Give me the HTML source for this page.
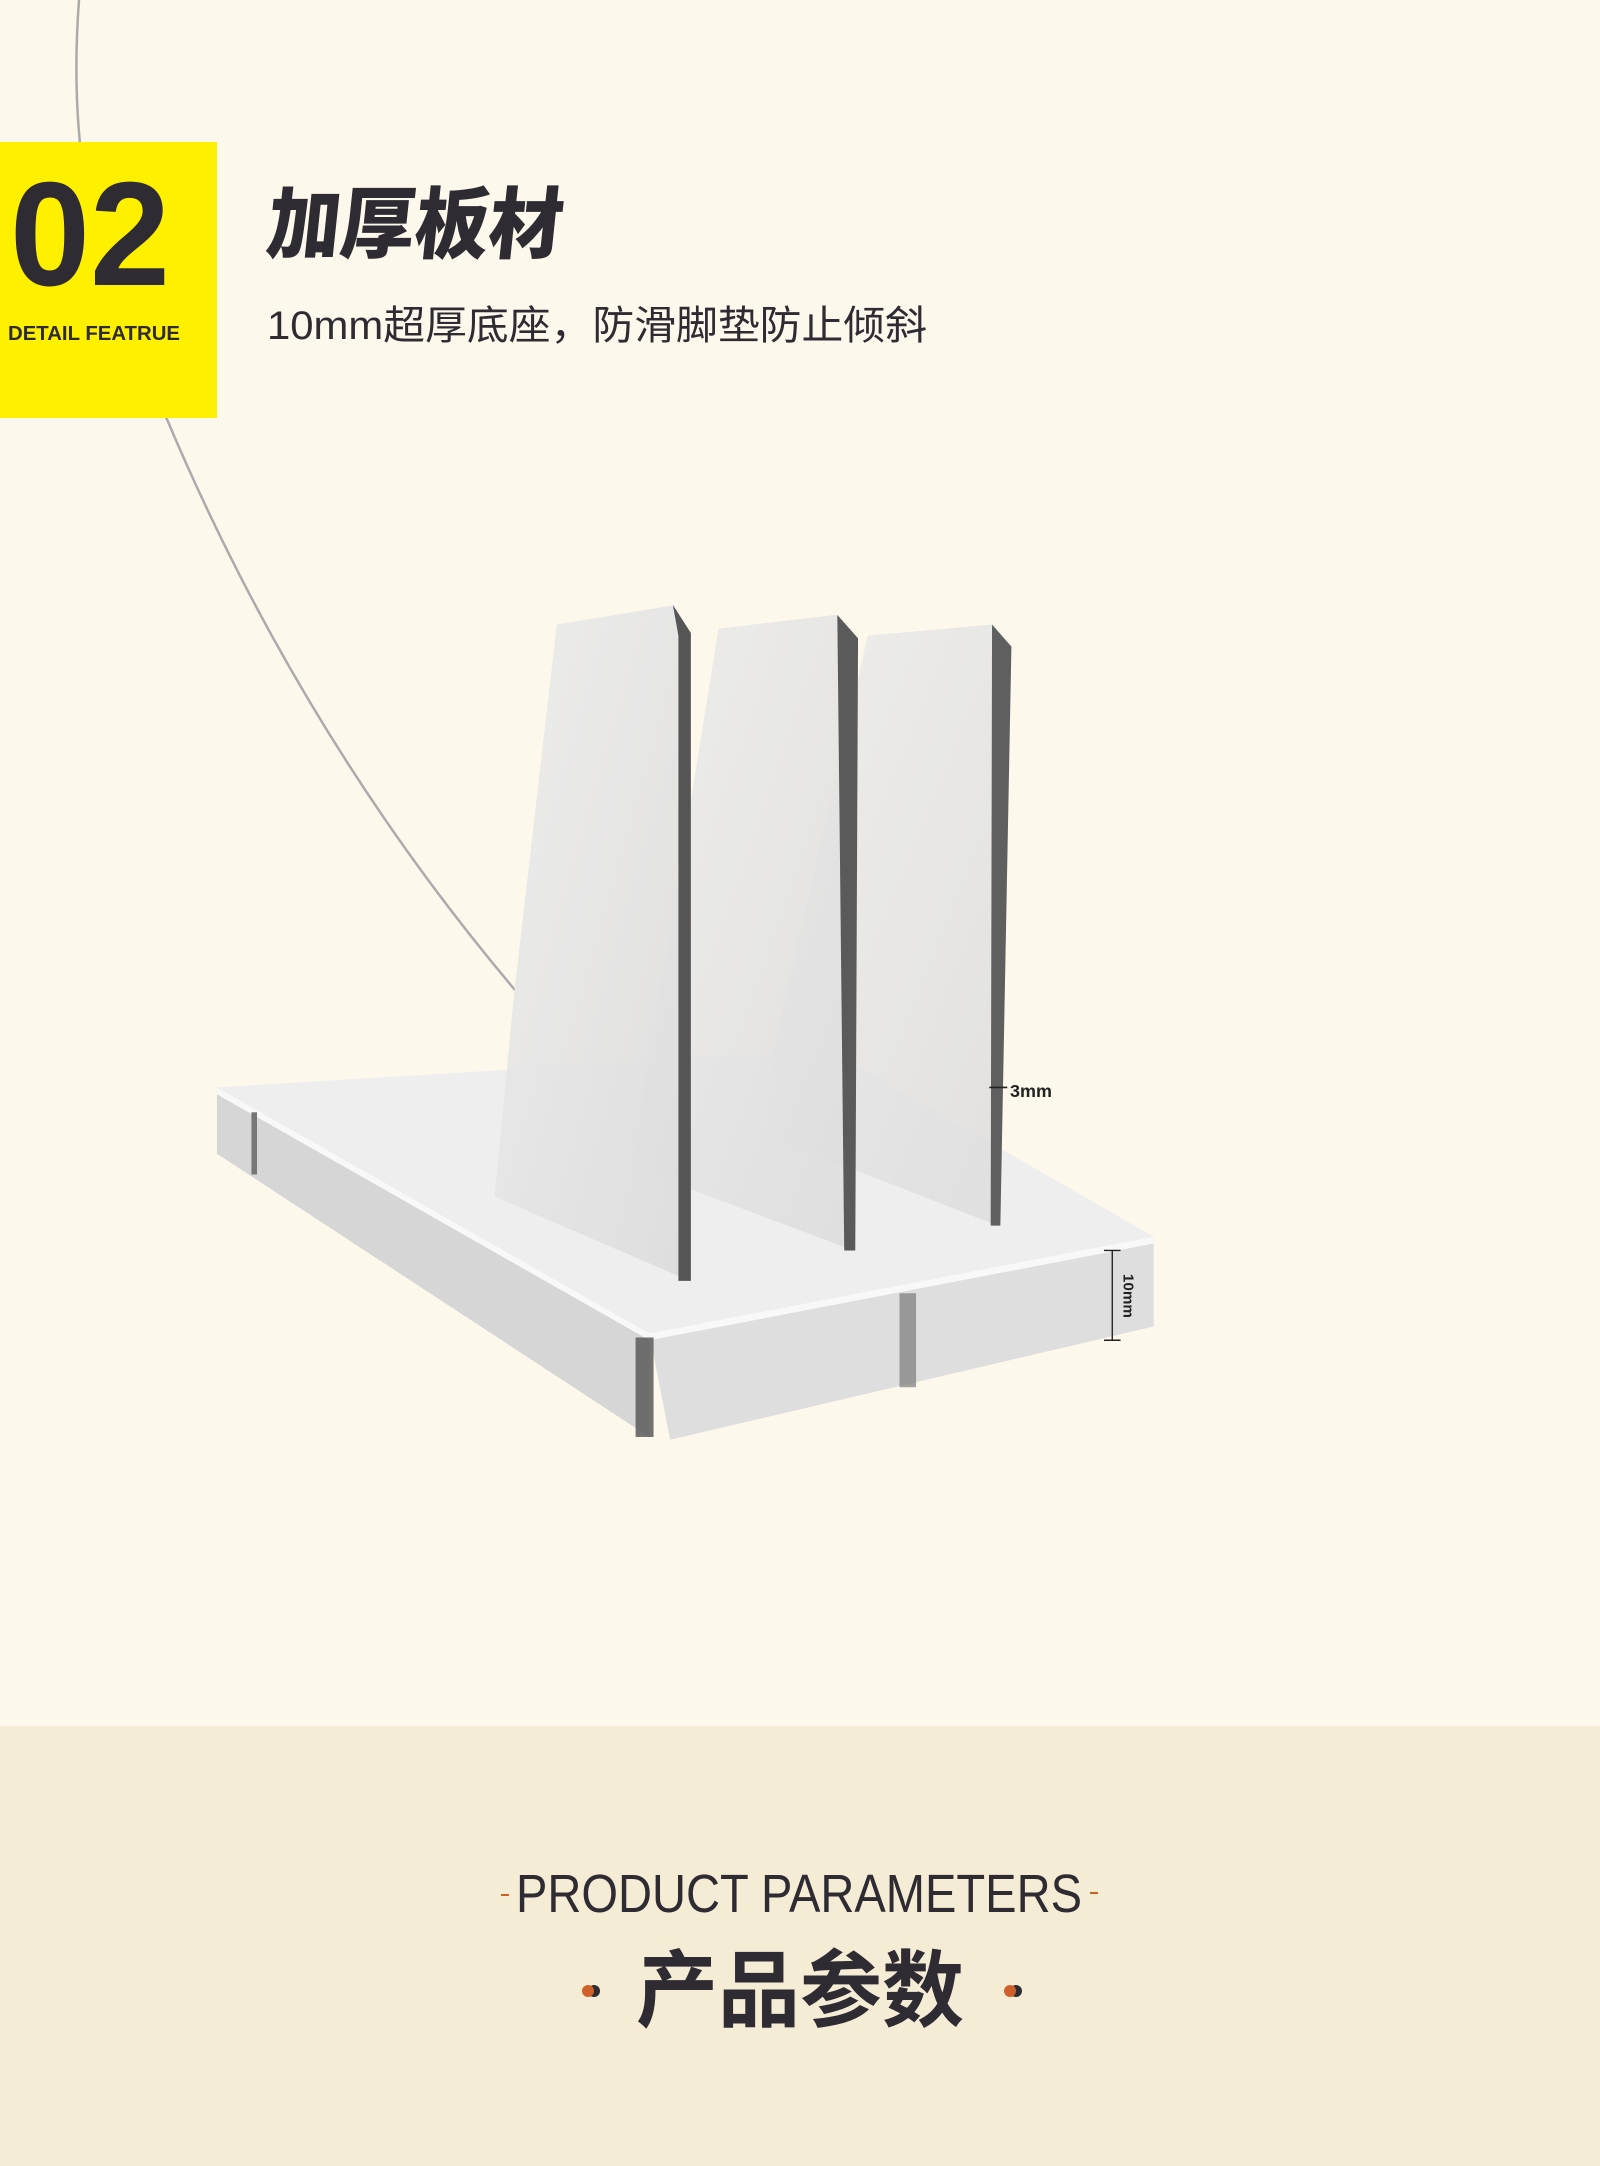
<!DOCTYPE html>
<html><head><meta charset="utf-8">
<style>
html,body{margin:0;padding:0}
body{width:1600px;height:2166px;background:#fdf8ec;position:relative;overflow:hidden;font-family:"Liberation Sans","Noto Sans CJK SC",sans-serif}
.bottom{position:absolute;left:0;top:1726px;width:1600px;height:440px;background:#f5ecd6}
svg{position:absolute;left:0;top:0}
</style></head><body>
<div class="bottom"></div>
<svg width="1600" height="2166" viewBox="0 0 1600 2166">
  <defs>
    <linearGradient id="pg" x1="0" y1="0" x2="1" y2="1">
      <stop offset="0" stop-color="#ececec"/>
      <stop offset="1" stop-color="#dcdcdc"/>
    </linearGradient>
  </defs>
  <path d="M79,0 C70,120 80,260 166,417" fill="none" stroke="#ababab" stroke-width="2.5"/>
  <path d="M166,417 C260,640 380,830 515,990" fill="none" stroke="#ababab" stroke-width="2.5"/>
  <rect x="0" y="142" width="217" height="276" fill="#fff000"/>
  <text x="10" y="285" font-family="Liberation Sans,sans-serif" font-weight="bold" font-size="148" fill="#2f2b33" textLength="160" lengthAdjust="spacingAndGlyphs">02</text>
  <text x="8" y="340" font-family="Liberation Sans,sans-serif" font-weight="bold" font-size="20" fill="#2f2b33" textLength="172" lengthAdjust="spacingAndGlyphs">DETAIL FEATRUE</text>
  <text x="265" y="252" font-family="Noto Sans CJK SC,sans-serif" font-weight="900" font-size="78" fill="#2f2b33" textLength="296" lengthAdjust="spacingAndGlyphs" transform="skewX(-6) translate(26,0)">加厚板材</text>
  <text x="267" y="339" font-family="Liberation Sans,Noto Sans CJK SC,sans-serif" font-size="40" fill="#2f2b33" textLength="660" lengthAdjust="spacingAndGlyphs">10mm超厚底座，防滑脚垫防止倾斜</text>

  <g transform="scale(1.3817)">
    <polygon points="157,787 600,760 835,895 470,965" fill="#eeeeee"/>
    <polygon points="157,787 470,965 470,1040 157,835" fill="#d6d6d6"/>
    <polygon points="470,965 835,895 835,960 485,1042" fill="#dedede"/>
    <polygon points="157,787 470,965 835,895 835,900 470,970 157,792" fill="#f8f8f8"/>
    <rect x="460" y="968" width="13" height="72" fill="#5a5a5a" opacity="0.85"/>
    <rect x="651" y="936" width="12" height="68" fill="#7a7a7a" opacity="0.7"/>
    <rect x="182" y="805" width="4" height="45" fill="#777"/>
    <polygon points="628,460 718,452 732,468 722,887 555,822 560,760" fill="url(#pg)" opacity="0.85"/>
    <polygon points="718,452 732,468 724,887 717,887" fill="#5f5f5f"/>
    <polygon points="520,455 605,445 620,462 618,905 458,845 466,790" fill="url(#pg)" opacity="0.88"/>
    <polygon points="606,445 621,462 619,905 611,905" fill="#5a5a5a"/>
    <polygon points="403,452 488,438 499,458 499,927 358,866 372,720" fill="url(#pg)" opacity="0.92"/>
    <polygon points="487,438 500,458 500,927 491,927 491,460" fill="#555"/>
    <line x1="716" y1="787" x2="729" y2="787" stroke="#222" stroke-width="1.2"/>
    <text x="731" y="794" font-family="Liberation Sans,sans-serif" font-weight="bold" font-size="13" fill="#222">3mm</text>
    <line x1="805" y1="905" x2="805" y2="970" stroke="#222" stroke-width="1"/>
    <line x1="799" y1="905" x2="811" y2="905" stroke="#222" stroke-width="1"/>
    <line x1="799" y1="970" x2="811" y2="970" stroke="#222" stroke-width="1"/>
    <text x="0" y="0" font-family="Liberation Sans,sans-serif" font-weight="bold" font-size="11" fill="#222" transform="translate(813,922) rotate(90)">10mm</text>
  </g>

  <line x1="501" y1="1895" x2="509" y2="1895" stroke="#d0602a" stroke-width="2"/>
  <line x1="1090" y1="1893" x2="1098" y2="1893" stroke="#d0602a" stroke-width="2"/>
  <text x="516" y="1912" font-family="Liberation Sans,sans-serif" font-size="54" fill="#2f2b33" textLength="566" lengthAdjust="spacingAndGlyphs">PRODUCT PARAMETERS</text>
  <text x="636" y="2020" font-family="Noto Sans CJK SC,sans-serif" font-weight="bold" font-size="84" fill="#2f2b33" textLength="328" lengthAdjust="spacingAndGlyphs">产品参数</text>
  <circle cx="594" cy="1991" r="6" fill="#2f2b33"/>
  <circle cx="588" cy="1991" r="6" fill="#d0602a"/>
  <circle cx="1016" cy="1991" r="6" fill="#2f2b33"/>
  <circle cx="1010" cy="1991" r="6" fill="#d0602a"/>
</svg>
</body></html>
